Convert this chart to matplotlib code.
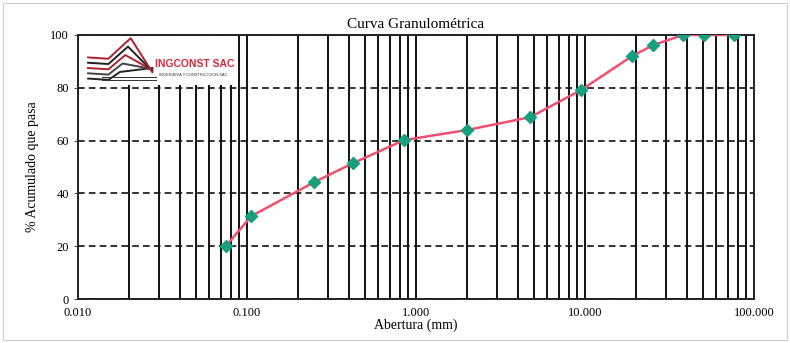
import matplotlib
matplotlib.use('Agg')
import matplotlib.pyplot as plt
from matplotlib.patches import Rectangle
from matplotlib.ticker import FixedLocator, LogLocator, NullFormatter

# sieve openings (mm) and cumulative passing (%)
abertura = [0.075, 0.106, 0.25, 0.425, 0.85, 2.0, 4.75, 9.5, 19.0, 25.4, 38.1, 50.8, 76.2]
pasa = [20.1, 31.4, 44.3, 51.5, 60.2, 64.0, 68.9, 79.2, 92.0, 96.2, 100, 100, 100]

x_ticks = [0.01, 0.1, 1, 10, 100]
x_labels = ['0.010', '0.100', '1.000', '10.000', '100.000']
y_ticks = [0, 20, 40, 60, 80, 100]

plt.rcParams['font.family'] = ['Liberation Serif', 'DejaVu Serif']

fig = plt.figure(figsize=(7.9, 3.43), dpi=100)
ax = fig.add_axes([0.0987, 0.128, 0.8557, 0.770])

ax.set_xscale('log')
ax.set_xlim(0.01, 100)
ax.set_ylim(0, 100)
ax.set_axisbelow(True)

ax.xaxis.set_major_locator(FixedLocator(x_ticks))
ax.set_xticklabels(x_labels, fontsize=9)
ax.xaxis.set_minor_locator(LogLocator(base=10, subs=range(2, 10)))
ax.xaxis.set_minor_formatter(NullFormatter())
ax.set_yticks(y_ticks)
ax.tick_params(axis='y', labelsize=9, length=3, color='#555555')
ax.tick_params(axis='x', which='both', length=0, pad=6)

ax.grid(True, axis='x', which='both', color='#111111', linewidth=1.4, zorder=0.5)
ax.grid(True, axis='y', which='major', color='#111111', linewidth=1.2,
        linestyle=(0, (4, 2.5)), zorder=0.5)

for s in ax.spines.values():
    s.set_color('#222222')
    s.set_linewidth(1.4)

ax.plot(abertura, pasa, color='#f0506e', linewidth=1.8, zorder=3,
        marker='D', markersize=6, markerfacecolor='#17a07e',
        markeredgecolor='#17a07e')

# logo block (upper left)
ax.add_patch(Rectangle((0.002, 0.81), 0.232, 0.185, transform=ax.transAxes,
                       facecolor='white', edgecolor='none', zorder=1.5))
logo = [(0.845, '#222222'), (0.865, '#444444'), (0.885, '#b02030'),
        (0.905, '#222222'), (0.925, '#b02030')]
for i, (y0, col) in enumerate(logo):
    ax.plot([0.015, 0.045, 0.062 + 0.004 * i, 0.11],
            [y0 - 0.01, y0 - 0.015, y0 + 0.015 + 0.012 * i, 0.875 - 0.004 * i],
            transform=ax.transAxes, color=col, linewidth=1.4, zorder=2)
    ax.plot([0.035, 0.115], [0.842 - 0.012 * (i % 2), 0.842 - 0.012 * (i % 2)],
            transform=ax.transAxes, color='#333333', linewidth=0.6, zorder=2)
ax.text(0.114, 0.89, 'INGCONST SAC', transform=ax.transAxes, color='#d8283c',
        fontsize=7.5, fontweight='bold', family=['Liberation Sans', 'DejaVu Sans'],
        va='center', ha='left', zorder=2)
ax.text(0.12, 0.848, 'INGENIERIA Y CONSTRUCCION SAC', transform=ax.transAxes,
        color='#333333', fontsize=2.8, family=['Liberation Sans', 'DejaVu Sans'],
        va='center', ha='left', zorder=2)

ax.set_title('Curva Granulométrica', fontsize=11, pad=5)
ax.set_xlabel('Abertura (mm)', fontsize=10, labelpad=-1)
ax.set_ylabel('% Acumulado que pasa', fontsize=10, labelpad=8)

fig.patches.append(Rectangle((0.004, 0.01), 0.992, 0.98, transform=fig.transFigure,
                             facecolor='none', edgecolor='#cccccc', linewidth=0.8))

fig.savefig('out.png', dpi=100)
